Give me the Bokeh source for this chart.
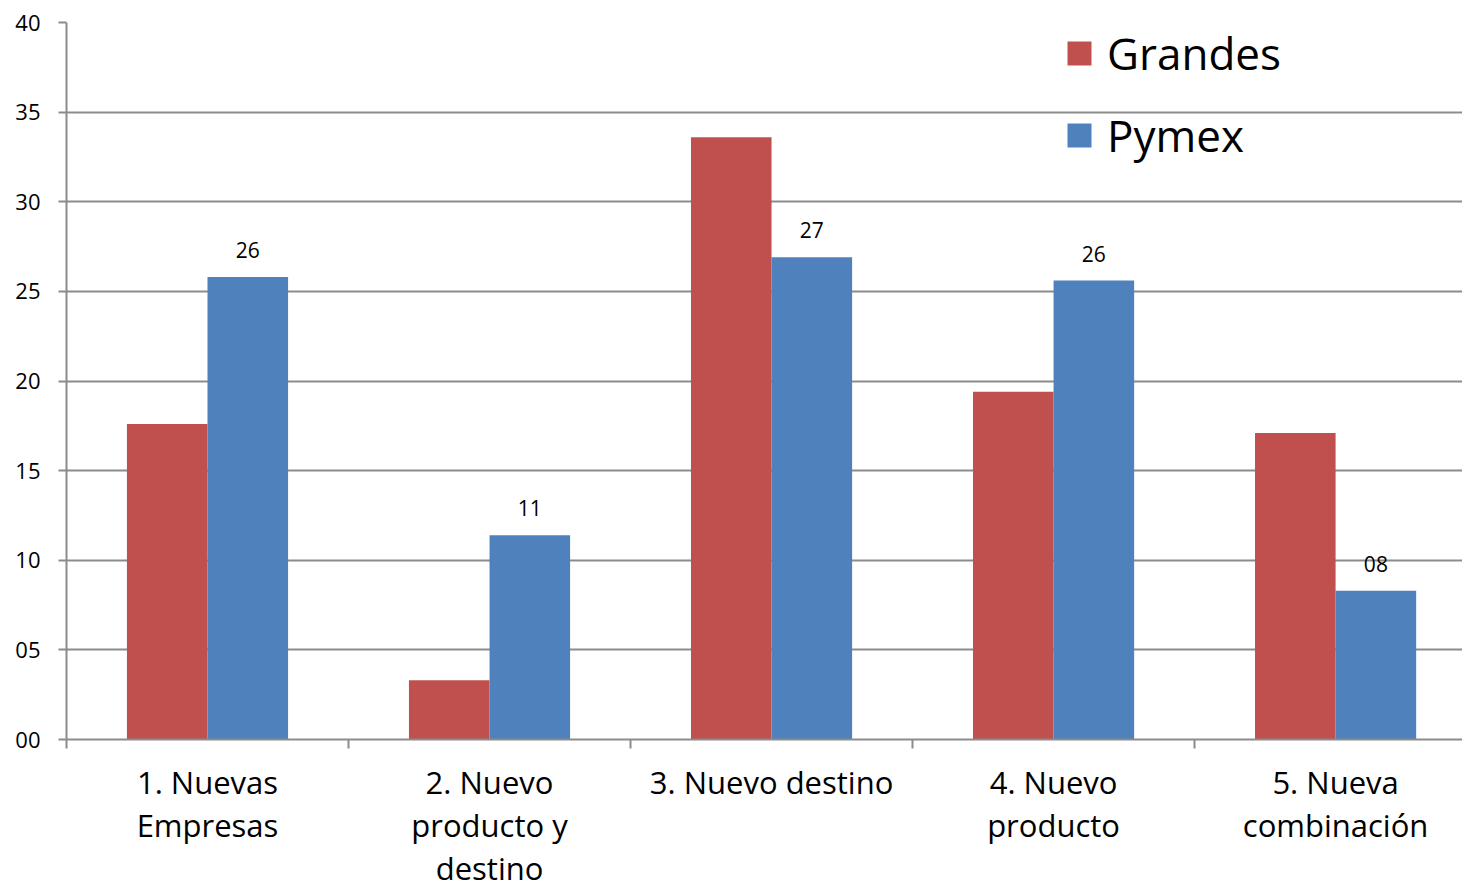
from bokeh.plotting import figure
from bokeh.models import Range1d, FixedTicker, ColumnDataSource, Legend, LegendItem
from bokeh.core.properties import value
from bokeh.embed import file_html
from bokeh.resources import INLINE

categories = ["1. Nuevas\nEmpresas", "2. Nuevo\nproducto y\ndestino", "3. Nuevo destino",
              "4. Nuevo\nproducto", "5. Nueva\ncombinación"]
grandes = [17.6, 3.3, 33.6, 19.4, 17.1]
pymex = [25.8, 11.4, 26.9, 25.6, 8.3]
y_ticks = [0, 5, 10, 15, 20, 25, 30, 35, 40]
y_tick_labels = ["00", "05", "10", "15", "20", "25", "30", "35", "40"]
series_names = ["Grandes", "Pymex"]
colors = ["#C0504D", "#4F81BD"]

FONT = "Open Sans"
GRID = "#8C8C8C"
n = len(categories)
bar_w = 0.2857
centers = [i + 0.5 for i in range(n)]

src = ColumnDataSource(dict(
    xg=[c - bar_w / 2 for c in centers],
    xp=[c + bar_w / 2 for c in centers],
    g=grandes, p=pymex,
    lab=["%02d" % round(v) for v in pymex],
))

p = figure(width=1462, height=892, output_backend="svg", toolbar_location=None,
           x_range=Range1d(0, 4.95), y_range=Range1d(0, 40),
           min_border_left=66, min_border_top=22, min_border_right=0,
           min_border_bottom=152)
p.outline_line_color = None
p.background_fill_color = "white"

rg = p.vbar(x="xg", top="g", width=bar_w, source=src, fill_color=colors[0], line_color=None)
rp = p.vbar(x="xp", top="p", width=bar_w, source=src, fill_color=colors[1], line_color=None)

p.text(x="xp", y="p", text="lab", source=src, text_align="center", text_baseline="bottom",
       y_offset=-19, text_font=value(FONT), text_font_size="21px", text_color="black")

# x axis
xa = p.xaxis[0]
xa.ticker = FixedTicker(ticks=centers, minor_ticks=list(range(n + 1)))
xa.major_label_overrides = {c: lab for c, lab in zip(centers, categories)}
xa.major_tick_out = 0
xa.major_tick_in = 0
xa.minor_tick_out = 9
xa.minor_tick_in = 0
xa.minor_tick_line_color = GRID
xa.minor_tick_line_width = 2
xa.axis_line_color = GRID
xa.axis_line_width = 2
xa.major_label_text_font = FONT
xa.major_label_text_font_size = "31px"
xa.major_label_text_line_height = 1.03
xa.major_label_text_color = "black"
xa.major_label_standoff = 12

# y axis
ya = p.yaxis[0]
ya.ticker = FixedTicker(ticks=y_ticks)
ya.major_label_overrides = {t: l for t, l in zip(y_ticks, y_tick_labels)}
ya.major_tick_out = 8
ya.major_tick_in = 0
ya.minor_tick_out = 0
ya.minor_tick_in = 0
ya.major_tick_line_color = GRID
ya.major_tick_line_width = 2
ya.axis_line_color = GRID
ya.axis_line_width = 2
ya.major_label_text_font = FONT
ya.major_label_text_font_size = "22px"
ya.major_label_text_color = "black"
ya.major_label_standoff = 18

p.xgrid.grid_line_color = None
p.ygrid.grid_line_color = GRID
p.ygrid.grid_line_width = 2
p.ygrid.ticker = FixedTicker(ticks=y_ticks)

legend = Legend(items=[LegendItem(label=series_names[0], renderers=[rg]),
                       LegendItem(label=series_names[1], renderers=[rp])],
                location=(998, 574))
legend.background_fill_alpha = 0
legend.border_line_color = None
legend.padding = 0
legend.margin = 0
legend.spacing = 22
legend.glyph_width = 30
legend.glyph_height = 30
legend.label_standoff = 13
legend.label_width = 220
legend.label_height = 60
legend.label_text_font = FONT
legend.label_text_font_size = "44px"
legend.label_text_color = "black"
p.add_layout(legend)

open("out.html", "w").write(file_html(p, INLINE))
